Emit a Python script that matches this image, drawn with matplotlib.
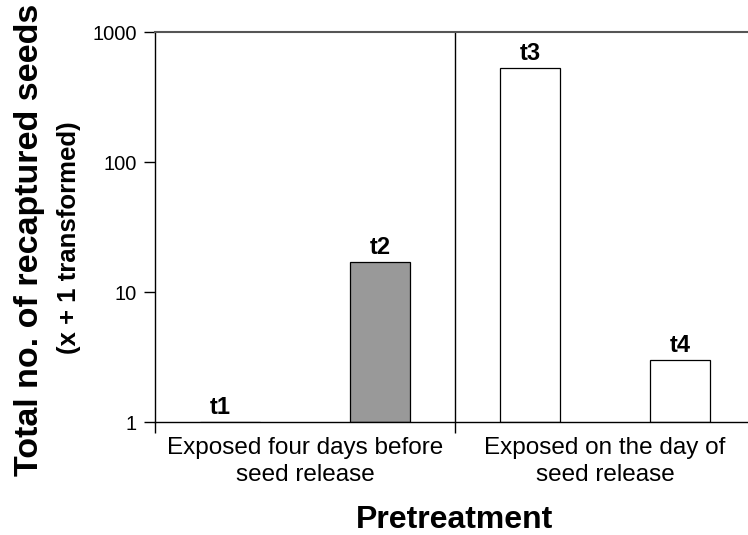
#!/usr/bin/env python3
"""Recaptured seeds by pretreatment, log-scaled bar chart."""

import matplotlib

matplotlib.use("Agg")

import matplotlib.pyplot as plt
from matplotlib.ticker import FixedLocator, NullLocator

# data: x + 1 transformed totals
TREATMENTS = ["t1", "t2", "t3", "t4"]
RECAPTURED = [1, 17, 527, 3]
BAR_COLORS = ["white", "#999999", "white", "white"]
GROUP_LABELS = [
    "Exposed four days before\nseed release",
    "Exposed on the day of\nseed release",
]
Y_TICKS = [1, 10, 100, 1000]

plt.rcParams.update(
    {
        "font.family": ["Liberation Sans", "DejaVu Sans"],
        "axes.linewidth": 1.0,
    }
)

W, H = 748, 535
fig = plt.figure(figsize=(W / 100, H / 100), dpi=100)
ax_left, ax_right, ax_top, ax_bottom = 155, 755, 32, 422
ax = fig.add_axes(
    [ax_left / W, 1 - ax_bottom / H, (ax_right - ax_left) / W, (ax_bottom - ax_top) / H]
)

x = list(range(len(TREATMENTS)))
heights = [v - 1 for v in RECAPTURED]
ax.bar(x, heights, bottom=1, width=0.4, color=BAR_COLORS, edgecolor="black", linewidth=0.9)

ax.set_yscale("log")
ax.set_ylim(1, 1000)
ax.set_xlim(-0.5, 3.5)
ax.yaxis.set_major_locator(FixedLocator(Y_TICKS))
ax.yaxis.set_minor_locator(NullLocator())
ax.set_yticklabels([str(t) for t in Y_TICKS])
ax.tick_params(axis="y", direction="out", length=8, width=1.0, labelsize=14.5, pad=5)

# group boundaries as ticks, group names on minor ticks
ax.set_xticks([-0.5, 1.5, 3.5])
ax.set_xticklabels([])
ax.tick_params(axis="x", which="major", direction="out", length=8, width=1.0)
ax.set_xticks([0.5, 2.5], minor=True)
ax.set_xticklabels(GROUP_LABELS, minor=True, fontsize=17.5, linespacing=1.25)
ax.tick_params(axis="x", which="minor", length=0, pad=11)

ax.axvline(1.5, color="black", linewidth=1.0)
ax.spines["right"].set_visible(False)
ax.spines["top"].set_color("#555555")
ax.spines["top"].set_linewidth(1.5)

for xi, val, name in zip(x, RECAPTURED, TREATMENTS):
    # the empty t1 bar has its label nudged left, as in the source figure
    dx = -7 if val <= 1 else 0
    ax.annotate(
        name, (xi, val), xytext=(dx, 2), textcoords="offset points",
        ha="center", va="bottom", fontsize=17, fontweight="bold",
    )

ax.set_xlabel("Pretreatment", fontsize=23, fontweight="bold", labelpad=14)
fig.text(30 / W, 1 - 240 / H, "Total no. of recaptured seeds", rotation=90,
         ha="center", va="center", fontsize=24.5, fontweight="bold")
fig.text(69 / W, 1 - 238 / H, "(x + 1 transformed)", rotation=90,
         ha="center", va="center", fontsize=18.5, fontweight="bold")

fig.savefig("out.png", dpi=100)
